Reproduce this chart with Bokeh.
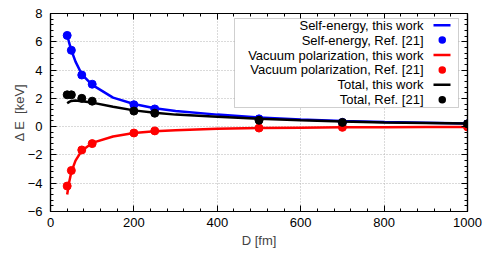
from bokeh.plotting import figure
from bokeh.models import (LinearAxis, Range1d, Label, BoxAnnotation, ColumnDataSource,
                          CustomJSTickFormatter, SingleIntervalTicker)
from bokeh.embed import file_html
from bokeh.resources import INLINE

# ---- data ----
D_curve = [40, 45, 50, 60, 75, 100, 150, 200, 250, 300, 400, 500, 600, 700, 800, 900, 1000]
se_curve = [6.5, 5.9, 5.4, 4.6, 3.7, 2.95, 2.05, 1.6, 1.3, 1.1, 0.85, 0.65, 0.5, 0.4, 0.32, 0.27, 0.22]
vp_curve = [-4.8, -3.9, -3.2, -2.4, -1.7, -1.15, -0.7, -0.45, -0.32, -0.25, -0.15, -0.1, -0.07, -0.05, -0.04, -0.03, -0.02]
tot_curve = [1.65, 1.75, 1.82, 1.85, 1.8, 1.7, 1.4, 1.15, 0.98, 0.85, 0.7, 0.55, 0.45, 0.37, 0.3, 0.26, 0.22]

D_ref = [40, 50, 75, 100, 200, 250, 500, 700, 1000]
se_ref = [6.45, 5.4, 3.65, 3.0, 1.55, 1.25, 0.55, 0.3, 0.2]
vp_ref = [-4.2, -3.1, -1.65, -1.2, -0.45, -0.3, -0.1, -0.05, -0.02]
tot_ref = [2.25, 2.25, 2.0, 1.8, 1.1, 0.95, 0.45, 0.3, 0.2]

x_tick_step = 200
y_tick_step = 2

legend_labels = ["Self-energy, this work", "Self-energy, Ref. [21]",
                 "Vacuum polarization, this work", "Vacuum polarization, Ref. [21]",
                 "Total, this work", "Total, Ref. [21]"]
legend_colors = ["#0000ff", "#0000ff", "#ff0000", "#ff0000", "#000000", "#000000"]
legend_kind = ["line", "dot", "line", "dot", "line", "dot"]

FONT = "Liberation Sans"
FS = "13px"

p = figure(width=485, height=250, output_backend="svg", toolbar_location=None,
           x_range=Range1d(0, 1000), y_range=Range1d(-6, 8),
           min_border_left=50, min_border_right=18, min_border_top=13, min_border_bottom=38)
p.background_fill_color = "white"
p.outline_line_color = "black"
p.outline_line_width = 1.2

def xt():
    return SingleIntervalTicker(interval=x_tick_step, num_minor_ticks=5)

def yt():
    return SingleIntervalTicker(interval=y_tick_step, num_minor_ticks=5)

def style_axis(ax, labels=True):
    ax.major_tick_in = 6
    ax.major_tick_out = 0
    ax.minor_tick_in = 3
    ax.minor_tick_out = 0
    ax.axis_line_color = "black"
    ax.axis_line_width = 1.2
    ax.major_tick_line_color = "black"
    ax.minor_tick_line_color = "black"
    ax.major_label_text_font = FONT
    ax.major_label_text_font_size = FS
    ax.major_label_text_color = "black"
    ax.major_label_standoff = 6
    ax.axis_label_text_font = FONT
    ax.axis_label_text_font_size = FS
    ax.axis_label_text_font_style = "normal"
    if not labels:
        ax.formatter = CustomJSTickFormatter(code="return ''")

p.xaxis[0].ticker = xt()
p.yaxis[0].ticker = yt()
style_axis(p.xaxis[0])
style_axis(p.yaxis[0])
p.yaxis.major_label_standoff = 8
p.xaxis.axis_label = "D [fm]"
p.yaxis.axis_label = "Δ E\u00a0\u00a0[keV]"
p.xaxis.axis_label_standoff = 3
p.yaxis.axis_label_standoff = -2

top = LinearAxis(ticker=xt())
right = LinearAxis(ticker=yt())
style_axis(top, labels=False)
style_axis(right, labels=False)
p.add_layout(top, "above")
p.add_layout(right, "right")

p.xgrid[0].ticker = SingleIntervalTicker(interval=x_tick_step)
p.ygrid[0].ticker = SingleIntervalTicker(interval=y_tick_step)
for g in (p.xgrid[0], p.ygrid[0]):
    g.grid_line_color = "#b4b4b4"
    g.grid_line_dash = "1 2"
    g.grid_line_width = 1

src_c = ColumnDataSource(dict(D=D_curve, se=se_curve, vp=vp_curve, tot=tot_curve))
src_r = ColumnDataSource(dict(D=D_ref, se=se_ref, vp=vp_ref, tot=tot_ref))

for col, c in (("se", "#0000ff"), ("vp", "#ff0000"), ("tot", "#000000")):
    p.line("D", col, source=src_c, line_color=c, line_width=2.5)
    p.scatter("D", col, source=src_r, size=8, fill_color=c, line_color=c)

# ---- gnuplot-style legend; screen units are relative to the frame (y up from bottom) ----
def box(l, r, t, b, **kw):
    return BoxAnnotation(left=l, right=r, top=t, bottom=b,
                         left_units="screen", right_units="screen",
                         top_units="screen", bottom_units="screen", **kw)

p.add_layout(box(184, 408, 193, 104, fill_color="white", fill_alpha=1.0,
                 line_color="#606060", line_width=1))
row0, dy = 186.3, 14.9
for i, (lab, col, kind) in enumerate(zip(legend_labels, legend_colors, legend_kind)):
    yc = row0 - i * dy
    p.add_layout(Label(x=373, y=yc, x_units="screen", y_units="screen", text=lab,
                       text_align="right", text_baseline="middle",
                       text_font=FONT, text_font_size=FS, text_color="black"))
    if kind == "line":
        p.add_layout(box(383, 400, yc + 1.2, yc - 1.2, fill_color=col, fill_alpha=1, line_color=None))
    else:
        p.add_layout(box(388, 395.5, yc + 3.75, yc - 3.75, fill_color=col, fill_alpha=1,
                         line_color=None, border_radius=4))

open("out.html", "w").write(file_html(p, INLINE))
